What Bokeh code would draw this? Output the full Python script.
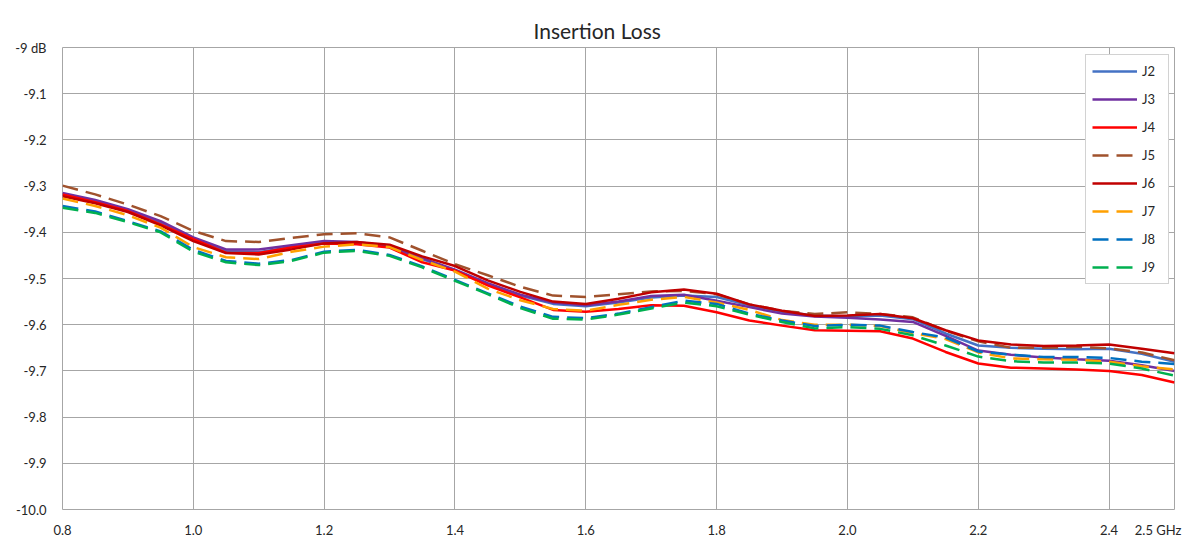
from bokeh.plotting import figure
from bokeh.models import Range1d, FixedTicker, Legend, LegendItem
from bokeh.embed import file_html
from bokeh.resources import INLINE

freq = [0.80, 0.85, 0.90, 0.95, 1.00, 1.05, 1.10, 1.15, 1.20, 1.25, 1.30, 1.35,
        1.40, 1.45, 1.50, 1.55, 1.60, 1.65, 1.70, 1.75, 1.80, 1.85, 1.90, 1.95,
        2.00, 2.05, 2.10, 2.15, 2.20, 2.25, 2.30, 2.35, 2.40, 2.45, 2.50]

J2 = [-9.317, -9.333, -9.353, -9.380, -9.414, -9.441, -9.443, -9.432, -9.422, -9.423, -9.431, -9.458,
      -9.483, -9.512, -9.537, -9.555, -9.560, -9.552, -9.541, -9.537, -9.540, -9.558, -9.572, -9.580,
      -9.582, -9.580, -9.588, -9.619, -9.645, -9.650, -9.652, -9.653, -9.652, -9.663, -9.680]
J3 = [-9.315, -9.330, -9.350, -9.376, -9.411, -9.437, -9.437, -9.428, -9.419, -9.421, -9.430, -9.456,
      -9.481, -9.510, -9.535, -9.552, -9.558, -9.550, -9.538, -9.535, -9.548, -9.562, -9.576, -9.582,
      -9.585, -9.589, -9.594, -9.624, -9.656, -9.665, -9.671, -9.675, -9.678, -9.688, -9.700]
J4 = [-9.318, -9.335, -9.354, -9.383, -9.415, -9.444, -9.445, -9.433, -9.424, -9.426, -9.433, -9.465,
      -9.483, -9.515, -9.541, -9.568, -9.572, -9.566, -9.558, -9.559, -9.573, -9.591, -9.602, -9.612,
      -9.613, -9.614, -9.630, -9.659, -9.684, -9.693, -9.695, -9.697, -9.700, -9.709, -9.725]
J5 = [-9.299, -9.318, -9.340, -9.365, -9.397, -9.419, -9.421, -9.412, -9.404, -9.402, -9.411, -9.440,
      -9.469, -9.493, -9.518, -9.537, -9.540, -9.534, -9.528, -9.527, -9.534, -9.556, -9.570, -9.577,
      -9.573, -9.577, -9.584, -9.613, -9.636, -9.650, -9.650, -9.648, -9.651, -9.660, -9.677]
J6 = [-9.322, -9.337, -9.356, -9.385, -9.419, -9.445, -9.448, -9.437, -9.424, -9.421, -9.427, -9.452,
      -9.473, -9.504, -9.529, -9.550, -9.555, -9.544, -9.530, -9.524, -9.533, -9.556, -9.570, -9.581,
      -9.580, -9.577, -9.586, -9.612, -9.634, -9.643, -9.646, -9.645, -9.643, -9.652, -9.662]
J7 = [-9.327, -9.343, -9.363, -9.390, -9.432, -9.454, -9.458, -9.442, -9.431, -9.426, -9.432, -9.460,
      -9.485, -9.522, -9.547, -9.566, -9.570, -9.557, -9.546, -9.540, -9.552, -9.568, -9.590, -9.600,
      -9.600, -9.603, -9.618, -9.631, -9.660, -9.673, -9.675, -9.676, -9.680, -9.690, -9.697]
J8 = [-9.343, -9.355, -9.376, -9.398, -9.438, -9.462, -9.468, -9.460, -9.442, -9.438, -9.449, -9.474,
      -9.503, -9.532, -9.561, -9.583, -9.586, -9.576, -9.562, -9.548, -9.555, -9.576, -9.591, -9.603,
      -9.600, -9.602, -9.616, -9.628, -9.658, -9.665, -9.670, -9.670, -9.672, -9.680, -9.685]
J9 = [-9.347, -9.358, -9.378, -9.400, -9.442, -9.465, -9.471, -9.462, -9.444, -9.440, -9.451, -9.476,
      -9.505, -9.534, -9.564, -9.587, -9.589, -9.578, -9.565, -9.552, -9.560, -9.578, -9.594, -9.608,
      -9.605, -9.609, -9.623, -9.645, -9.669, -9.679, -9.682, -9.682, -9.684, -9.695, -9.710]

series_names = ["J2", "J3", "J4", "J5", "J6", "J7", "J8", "J9"]
series_vals = [J2, J3, J4, J5, J6, J7, J8, J9]
colors = ["#4472C4", "#7030A0", "#FF0000", "#A0522D", "#C00000", "#FFA000", "#0070C0", "#00B050"]
dashes = ["solid", "solid", "solid", "16 8", "solid", "16 8", "16 8", "16 8"]

grid_x = [1.0, 1.2, 1.4, 1.6, 1.8, 2.0, 2.2, 2.4]
x_ticks = [0.8, 1.0, 1.2, 1.4, 1.6, 1.8, 2.0, 2.2, 2.4, 2.475]
x_tick_labels = ["0.8", "1.0", "1.2", "1.4", "1.6", "1.8", "2.0", "2.2", "2.4", "2.5 GHz"]
y_ticks = [-10.0, -9.9, -9.8, -9.7, -9.6, -9.5, -9.4, -9.3, -9.2, -9.1, -9.0]
y_tick_labels = ["-10.0", "-9.9", "-9.8", "-9.7", "-9.6", "-9.5", "-9.4", "-9.3", "-9.2", "-9.1", "-9 dB"]

FONT = "Lato"

p = figure(width=1200, height=540, output_backend="svg", toolbar_location=None,
           x_range=Range1d(0.8, 2.5), y_range=Range1d(-10.0, -9.0),
           min_border_left=62, min_border_right=26, min_border_top=47, min_border_bottom=28)

p.title.text = "Insertion Loss"
p.title.align = "left"
p.title.offset = 471
p.title.text_font = FONT
p.title.text_font_size = "21px"
p.title.text_font_style = "normal"
p.title.text_color = "#262626"

p.outline_line_color = "#A6A6A6"
p.outline_line_width = 1
p.background_fill_color = "white"
p.border_fill_color = "white"

for ax in (p.xaxis[0], p.yaxis[0]):
    ax.axis_line_color = None
    ax.major_tick_line_color = None
    ax.minor_tick_line_color = None
    ax.major_label_text_font = FONT
    ax.major_label_text_font_size = "13px"
    ax.major_label_text_color = "#262626"

p.xaxis.ticker = FixedTicker(ticks=x_ticks)
p.xaxis.major_label_overrides = {t: l for t, l in zip(x_ticks, x_tick_labels)}
p.xaxis.major_label_standoff = 6
p.yaxis.ticker = FixedTicker(ticks=y_ticks)
p.yaxis.major_label_overrides = {t: l for t, l in zip(y_ticks, y_tick_labels)}
p.yaxis.major_label_standoff = 10

p.xgrid.ticker = FixedTicker(ticks=grid_x)
p.xgrid.grid_line_color = "#A6A6A6"
p.ygrid.grid_line_color = "#A6A6A6"
p.xgrid.grid_line_width = 1
p.ygrid.grid_line_width = 1

items = []
for name, vals, c, d in zip(series_names, series_vals, colors, dashes):
    r = p.line(freq, vals, line_color=c, line_width=2.5, line_dash=d)
    items.append(LegendItem(label=name, renderers=[r]))

legend = Legend(items=items, location=(1023, 225), orientation="vertical",
                glyph_width=45, glyph_height=20, label_height=20, spacing=8,
                padding=6, margin=0, label_standoff=5,
                label_text_font=FONT, label_text_font_size="13px", label_text_color="#262626",
                border_line_color="#A6A6A6", border_line_width=1,
                background_fill_color="white", background_fill_alpha=1.0)
p.add_layout(legend, "center")

open("out.html", "w").write(file_html(p, INLINE))
